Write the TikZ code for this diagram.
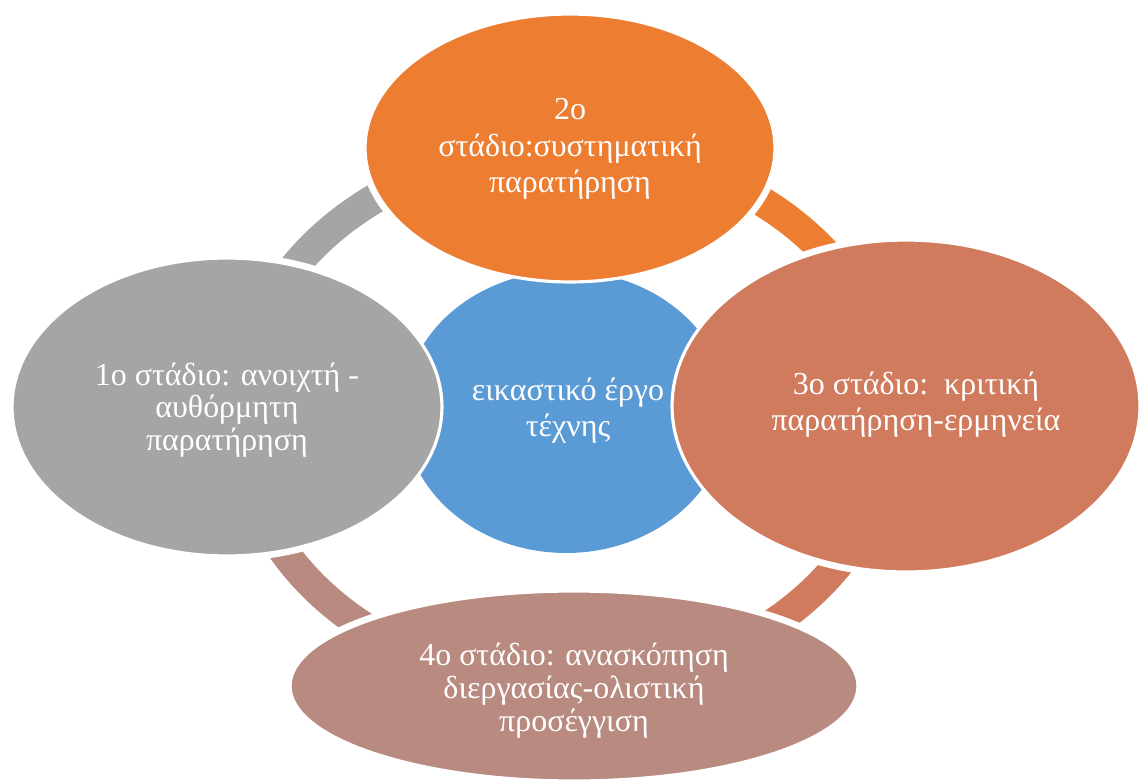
\documentclass[tikz,border=0pt]{standalone}
\usepackage{fontspec}
\setmainfont{Liberation Serif}
\usetikzlibrary{shapes.geometric}

\definecolor{stageOrange}{HTML}{ED7D31}
\definecolor{stageBlue}{HTML}{5B9BD5}
\definecolor{stageGray}{HTML}{A5A5A5}
\definecolor{stageTerra}{HTML}{D17B5E}
\definecolor{stageRose}{HTML}{B88A80}

\tikzset{
  stagebox/.style={ellipse, draw=white, line width=1.8pt, inner sep=0pt},
  stagetext/.style={text=white, align=center, font=\fontsize{18.2}{20.6}\selectfont},
  ringarc/.style={line width=0.6cm},
  halo/.style={draw=white, line width=0.2cm},
}

\begin{document}
\begin{tikzpicture}[x=0.02cm,y=0.02cm]
\useasboundingbox (0,0) rectangle (1140,-782);

% cycle ring behind the stages, one coloured arc per step
\coordinate (ringc) at (566,-416);
\draw[ringarc, stageOrange] ([shift={(90:6.54cm and 5.36cm)}]ringc) arc[start angle=90, end angle=0, x radius=6.54cm, y radius=5.36cm];
\draw[ringarc, stageTerra] ([shift={(0:6.54cm and 5.36cm)}]ringc) arc[start angle=0, end angle=-90, x radius=6.54cm, y radius=5.36cm];
\draw[ringarc, stageRose] ([shift={(-90:6.54cm and 5.36cm)}]ringc) arc[start angle=-90, end angle=-180, x radius=6.54cm, y radius=5.36cm];
\draw[ringarc, stageGray] ([shift={(180:6.54cm and 5.36cm)}]ringc) arc[start angle=180, end angle=90, x radius=6.54cm, y radius=5.36cm];

% white gaps where the ring meets each stage
\draw[halo] (570,-148) ellipse [x radius=4.1cm, y radius=2.68cm];
\draw[halo] (227,-407) ellipse [x radius=4.3cm, y radius=2.98cm];
\draw[halo] (906,-406) ellipse [x radius=4.68cm, y radius=3.32cm];
\draw[halo] (574,-686) ellipse [x radius=5.68cm, y radius=1.9cm];

% central work of art
\node[ellipse, fill=stageBlue, inner sep=0pt, minimum width=6.5cm, minimum height=5.64cm] (core) at (566,-412) {};

% four stages
\node[stagebox, fill=stageOrange, minimum width=8.2cm, minimum height=5.36cm] (s2) at (570,-148) {};
\node[stagebox, fill=stageGray, minimum width=8.6cm, minimum height=5.96cm] (s1) at (227,-407) {};
\node[stagebox, fill=stageTerra, minimum width=9.36cm, minimum height=6.64cm] (s3) at (906,-406) {};
\node[stagebox, fill=stageRose, minimum width=11.36cm, minimum height=3.8cm] (s4) at (574,-686) {};

% labels
\node[stagetext] (t0) at (568,-411) {εικαστικό έργο\\τέχνης};
\node[stagetext] (t2) at (570,-149) {2ο\\στάδιο:συστηματική\\παρατήρηση};
\node[stagetext, font=\fontsize{18.2}{18.4}\selectfont] (t1) at (227,-410) {1ο στάδιο: ανοιχτή -\\αυθόρμητη\\παρατήρηση};
\node[stagetext] (t3) at (916,-405) {3ο στάδιο:\ \ κριτική\\παρατήρηση-ερμηνεία};
\node[stagetext, font=\fontsize{18.2}{18.8}\selectfont] (t4) at (574,-691) {4ο στάδιο: ανασκόπηση\\διεργασίας-ολιστική\\προσέγγιση};
\end{tikzpicture}
\end{document}
